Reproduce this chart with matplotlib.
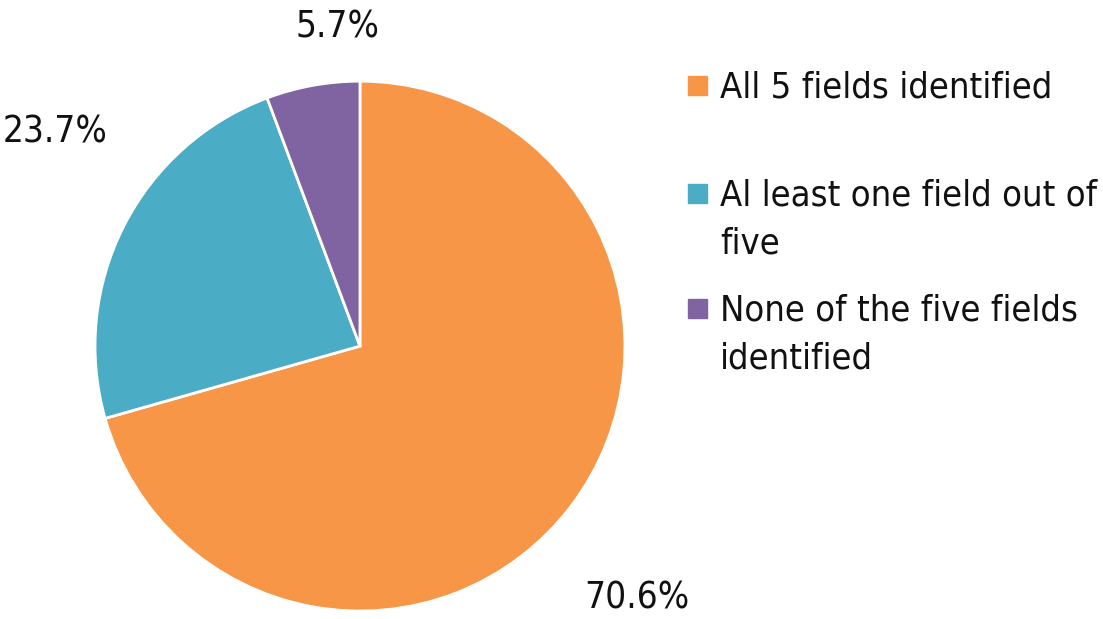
import matplotlib.pyplot as plt
from matplotlib.patches import Rectangle

# data
labels = ['All 5 fields identified', 'Al least one field out of\nfive',
          'None of the five fields\nidentified']
values = [70.6, 23.7, 5.7]
colors = ['#F79646', '#4BACC6', '#8064A2']
pct_text = ['70.6%', '23.7%', '5.7%']
pct_pos = [(1.045, -0.951), (-1.151, 0.808), (-0.083, 1.204)]

plt.rcParams['font.family'] = ['DejaVu Sans']
plt.rcParams['font.stretch'] = 'condensed'

fig = plt.figure(figsize=(11.03, 6.19), dpi=100)
ax = fig.add_axes([0.0861, 0.0129, 0.4805, 0.856])
wedges, _ = ax.pie(values, colors=colors, startangle=90, counterclock=False,
                   wedgeprops=dict(edgecolor='white', linewidth=2))
ax.set_xlim(-1, 1)
ax.set_ylim(-1, 1)
ax.set_aspect('equal')
ax.axis('off')

for t, (x, y) in zip(pct_text, pct_pos):
    ax.text(x, y, t, ha='center', va='center', fontsize=26.5, color='#111111',
            clip_on=False)

# legend drawn by hand: marker centre y in pixels
rows_y = [85, 193, 308]
for lab, c, yp in zip(labels, colors, rows_y):
    fy = 1 - yp / 619
    fig.add_artist(Rectangle((688 / 1103, fy - 9.5 / 619), 19 / 1103, 19 / 619,
                             transform=fig.transFigure, color=c))
    fig.text(720 / 1103, fy + 15 / 619, lab, ha='left', va='top', fontsize=26,
             color='#111111', linespacing=1.52)

fig.savefig('out.png', dpi=100)
